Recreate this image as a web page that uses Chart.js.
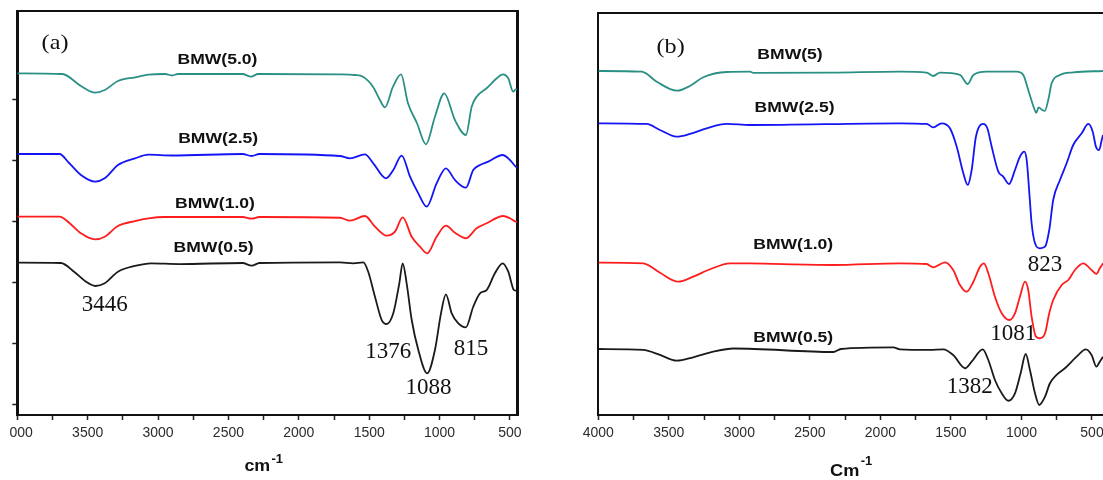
<!DOCTYPE html>
<html><head><meta charset="utf-8">
<script src="https://cdn.jsdelivr.net/npm/chart.js@4.4.1/dist/chart.umd.min.js"></script>
<style>
html,body{margin:0;padding:0;background:#fff;width:1103px;height:480px;overflow:hidden;position:relative}
#wrapA{position:absolute;left:9px;top:0;width:551px;height:480px;overflow:hidden}
#cA{position:absolute;left:-29px;top:0}
#cB{position:absolute;left:560px;top:0}
</style></head><body>
<div id="wrapA"><canvas id="cA" width="580" height="480"></canvas></div>
<canvas id="cB" width="600" height="480"></canvas>
<script>
// ---------- tick labels / tick values ----------
const xTickLabels = ['500','1000','1500','2000','2500','3000','3500','4000'];
const xTickValues = [500,750,1000,1250,1500,1750,2000,2250,2500,2750,3000,3250,3500,3750,4000];
const yTickValues = [0,10,20,30,40,50];

// ---------- panel (a) ----------
const wnA50 = [4000,3680,3548,3446,3379,3285,3164,3068,2950,2900,2860,2400,2340,2290,1708,1601,1544,1473,1424,1388,1331,1274,1225,1161,1097,1033,967,891,813,772,737,666,594,552,512,477,459,450];
const tA50  = [54.38,54.26,52.30,51.20,51.64,53.11,53.72,54.15,54.26,54.02,54.26,54.26,53.82,54.26,54.21,54.10,53.82,52.18,50.00,48.80,52.18,54.21,49.51,46.23,42.74,47.26,51.10,46.72,44.26,48.90,50.54,51.92,53.56,54.21,53.56,51.36,51.75,51.70];

const wnA25 = [4000,3700,3632,3548,3446,3379,3285,3164,3068,2900,2400,2335,2280,1708,1637,1530,1471,1381,1329,1269,1210,1151,1092,1021,955,891,813,761,713,654,552,500,459,450];
const tA25  = [41.15,41.15,39.67,37.70,36.61,37.16,39.34,40.44,41.03,40.90,41.15,40.82,41.15,40.82,40.44,41.10,39.62,37.16,38.52,40.87,37.43,34.70,32.51,36.34,38.80,36.89,35.62,38.52,39.34,39.89,40.98,40.16,39.07,38.90];

const wnA10 = [4000,3700,3632,3548,3446,3379,3285,3164,3068,2950,2400,2335,2280,1708,1637,1530,1459,1376,1317,1262,1198,1139,1088,1021,955,891,813,737,666,548,500,459,450];
const tA10  = [30.87,30.87,29.89,28.15,27.16,27.59,29.34,30.16,30.61,30.82,30.82,30.54,30.82,30.70,30.21,30.98,29.23,27.75,28.41,30.77,27.59,25.95,24.87,27.59,29.39,28.25,27.33,28.97,29.79,30.98,30.61,30.05,30.00];

const wnA05 = [4000,3690,3597,3512,3446,3379,3285,3164,3050,2850,2400,2335,2280,1708,1613,1542,1507,1459,1411,1376,1329,1286,1262,1234,1198,1151,1088,1033,990,955,914,867,813,761,713,666,607,552,512,472,459,450];
const tA05  = [23.33,23.28,21.85,20.21,19.51,19.95,21.85,22.79,23.23,23.11,23.28,22.84,23.28,23.39,23.23,23.39,21.85,17.75,13.93,13.28,15.03,19.95,23.23,19.95,13.93,9.02,5.20,9.02,15.03,18.15,15.03,13.39,12.74,16.11,18.31,18.85,21.59,23.23,21.85,18.85,18.74,18.70];

// ---------- panel (b) ----------
const wnB5 = [4000,3692,3586,3444,3350,3256,3090,2925,2900,2345,1862,1672,1625,1578,1436,1381,1341,1246,1034,987,952,910,895,878,855,835,810,786,727,633,422];
const tB5  = [54.75,54.64,53.00,51.52,52.30,53.72,54.59,54.64,54.43,54.48,54.64,54.48,53.93,54.48,54.10,52.62,54.10,54.64,54.64,54.10,51.64,48.60,47.90,48.80,48.40,48.20,50.00,52.74,54.10,54.54,54.75];

const wnB25 = [4000,3657,3563,3444,3350,3232,3090,2925,1862,1672,1625,1566,1507,1459,1412,1381,1353,1323,1271,1242,1211,1164,1129,1088,1046,1011,980,963,944,928,904,869,833,803,775,727,680,633,573,526,495,472,450,431,422];
const tB25  = [46.18,46.07,45.08,43.98,44.43,45.36,46.07,45.90,46.18,46.07,45.52,46.18,45.36,42.34,37.98,36.07,38.52,43.98,46.07,45.36,42.34,38.25,37.43,36.23,38.52,40.70,41.52,40.16,34.70,29.79,26.51,25.69,25.95,28.69,33.61,36.89,39.62,42.62,44.54,46.07,44.80,42.34,41.80,43.44,44.26];

const wnB10 = [4000,3681,3563,3433,3327,3208,3066,2925,2334,1862,1672,1625,1542,1484,1436,1389,1341,1294,1266,1235,1188,1140,1086,1046,1011,975,952,928,897,869,833,803,775,715,668,621,562,503,468,445,422];
const tB10  = [23.33,23.23,21.69,20.21,21.03,22.25,23.23,23.20,22.95,23.23,23.11,22.57,23.39,22.13,19.67,18.57,20.21,22.67,23.23,21.59,17.75,15.03,13.93,15.03,17.75,20.21,18.85,14.48,11.20,10.93,11.75,15.03,17.21,19.67,20.49,22.13,23.23,22.13,21.48,22.41,23.23];

const wnB05 = [4000,3681,3563,3444,3327,3185,3042,2334,2280,1909,1862,1650,1554,1484,1400,1353,1275,1235,1188,1140,1093,1046,1006,970,940,904,874,833,798,751,692,609,543,503,468,445,422];
const tB05  = [9.18,9.02,8.20,7.26,7.82,8.74,9.26,8.69,9.18,9.43,9.13,9.02,9.13,8.20,6.02,7.10,9.13,7.38,4.10,1.92,0.70,1.92,5.20,8.36,5.74,1.92,0.00,1.36,3.56,4.92,6.02,7.92,9.13,8.20,6.28,7.10,7.92];

// ---------- styling ----------
const SANS = '"Liberation Sans", Arial, sans-serif';
const SERIF = '"Liberation Serif", "Times New Roman", serif';
const C_TEAL = '#2a9086', C_BLUE = '#1414f5', C_RED = '#ff1c1c', C_BLACK = '#1a1a1a';
const LBL = 'bold 15px ' + SANS, PK = '23px ' + SERIF, PAN = '21px ' + SERIF;

const notesA = [
  {text:'(a)', wn:3732, v:59.34, font:PAN, sx:1.15},
  {text:'BMW(5.0)', wn:2578, v:56.51, font:LBL, sx:1.17},
  {text:'BMW(2.5)', wn:2573, v:43.56, font:LBL, sx:1.17},
  {text:'BMW(1.0)', wn:2596, v:32.95, font:LBL, sx:1.17},
  {text:'BMW(0.5)', wn:2606, v:25.69, font:LBL, sx:1.17},
  {text:'3446', wn:3379, v:16.39, font:PK},
  {text:'1376', wn:1365, v:8.74, font:PK},
  {text:'1088', wn:1078, v:2.87, font:PK},
  {text:'815', wn:776, v:9.15, font:PK},
  {text:'cm', wn:2295, v:-10.11, font:'bold 17px ' + SANS, sx:1.05},
  {text:'-1', wn:2153, v:-8.90, font:'bold 13px ' + SANS}
];
const notesB = [
  {text:'(b)', wn:3487, v:58.61, font:PAN, sx:1.15},
  {text:'BMW(5)', wn:2641, v:57.46, font:LBL, sx:1.17},
  {text:'BMW(2.5)', wn:2609, v:48.64, font:LBL, sx:1.17},
  {text:'BMW(1.0)', wn:2618, v:26.23, font:LBL, sx:1.17},
  {text:'BMW(0.5)', wn:2618, v:10.93, font:LBL, sx:1.17},
  {text:'823', wn:833, v:22.95, font:PK},
  {text:'1081', wn:1058, v:11.64, font:PK},
  {text:'1382', wn:1367, v:3.0, font:PK},
  {text:'Cm', wn:2253, v:-10.93, font:'bold 17px ' + SANS, sx:1.07},
  {text:'-1', wn:2099, v:-9.30, font:'bold 13px ' + SANS}
];

function textPlugin(items) {
  return {
    id: 'texts',
    afterDraw(chart) {
      const ctx = chart.ctx, xs = chart.scales.x, ys = chart.scales.y;
      items.forEach(it => {
        const px = xs.getPixelForValue(it.wn), py = ys.getPixelForValue(it.v);
        ctx.save();
        ctx.translate(px, py);
        ctx.scale(it.sx || 1, 1);
        ctx.font = it.font;
        ctx.fillStyle = '#111';
        ctx.textAlign = 'center';
        ctx.textBaseline = 'middle';
        ctx.fillText(it.text, 0, 0);
        ctx.restore();
      });
    }
  };
}

function series(label, wn, t, color) {
  return {
    label, data: wn.map((w, i) => ({x: w, y: t[i]})),
    borderColor: color, borderWidth: 1.8, pointRadius: 0, fill: false,
    cubicInterpolationMode: 'monotone'
  };
}

function makeChart(id, datasets, items, cfg) {
  const tickGridX = {display: true, drawOnChartArea: false, drawTicks: true, tickLength: 5, tickWidth: 1.5, tickColor: '#222'};
  const tickGridY = {display: true, drawOnChartArea: false, drawTicks: true, tickLength: 5, tickWidth: 1.5, tickColor: '#222'};
  return new Chart(document.getElementById(id), {
    type: 'line',
    data: {datasets},
    options: {
      responsive: false, animation: false, devicePixelRatio: 1,
      layout: {padding: 0},
      plugins: {legend: {display: false}, tooltip: {enabled: false}},
      scales: {
        x: {
          type: 'linear', position: 'bottom', reverse: true, min: cfg.xmin, max: 4000,
          afterFit: s => { s.height = 65; },
          afterBuildTicks: s => { s.ticks = xTickValues.map(v => ({value: v})); },
          ticks: {autoSkip: false, maxRotation: 0, padding: 5,
                  color: '#2b2b2b', font: {family: SANS, size: 14},
                  callback: v => xTickLabels.includes(String(v)) ? String(v) : ''},
          grid: tickGridX,
          border: {display: true, color: '#111', width: 2}
        },
        xt: {
          axis: 'x', type: 'linear', position: 'top', min: 0, max: 1,
          afterFit: s => { s.height = cfg.top; },
          ticks: {display: false}, grid: {display: false, drawTicks: false},
          border: {display: true, color: '#111', width: 2}
        },
        y: {
          type: 'linear', position: 'left', min: -1.64, max: cfg.ymax,
          afterFit: s => { s.width = cfg.left; },
          afterBuildTicks: s => { s.ticks = yTickValues.map(v => ({value: v})); },
          ticks: {display: false},
          grid: cfg.yTicks ? tickGridY : {display: false, drawTicks: false},
          border: {display: true, color: '#111', width: cfg.leftW}
        },
        yr: {
          axis: 'y', type: 'linear', position: 'right',
          afterFit: s => { s.width = cfg.right; },
          ticks: {display: false}, grid: {display: false, drawTicks: false},
          border: {display: true, color: '#111', width: 3}
        }
      }
    },
    plugins: [textPlugin(items)]
  });
}

makeChart('cA', [
  series('BMW(5.0)', wnA50, tA50, C_TEAL),
  series('BMW(2.5)', wnA25, tA25, C_BLUE),
  series('BMW(1.0)', wnA10, tA10, C_RED),
  series('BMW(0.5)', wnA05, tA05, C_BLACK)
], notesA, {xmin: 450, ymax: 64.59, top: 11, left: 37.3, right: 43, leftW: 3, yTicks: true});

makeChart('cB', [
  series('BMW(5)', wnB5, tB5, C_TEAL),
  series('BMW(2.5)', wnB25, tB25, C_BLUE),
  series('BMW(1.0)', wnB10, tB10, C_RED),
  series('BMW(0.5)', wnB05, tB05, C_BLACK)
], notesB, {xmin: 400, ymax: 64.21, top: 13.3, left: 38.3, right: 53.9, leftW: 2, yTicks: false});
</script>
</body></html>
